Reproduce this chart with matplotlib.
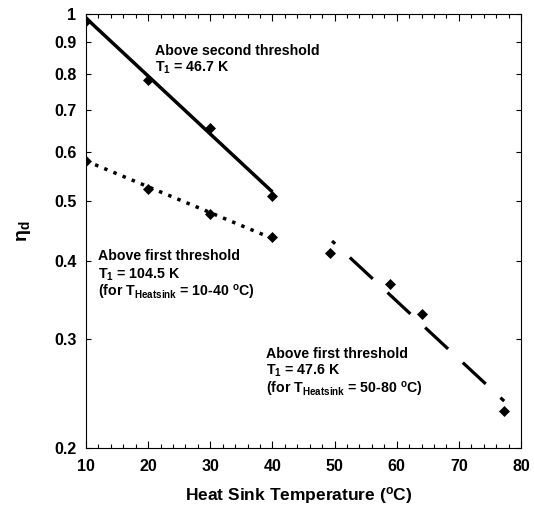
import matplotlib
matplotlib.use("Agg")
import matplotlib.pyplot as plt
from matplotlib.ticker import FixedLocator, NullLocator, MultipleLocator

# fonts: bold Arial-like everywhere, mathtext in the same face
plt.rcParams['font.family'] = ['Liberation Sans', 'DejaVu Sans']
plt.rcParams['font.weight'] = 'bold'
plt.rcParams['mathtext.fontset'] = 'custom'
plt.rcParams['mathtext.rm'] = 'Liberation Sans:bold'
plt.rcParams['mathtext.it'] = 'Liberation Sans:bold'
plt.rcParams['mathtext.bf'] = 'Liberation Sans:bold'
plt.rcParams['mathtext.default'] = 'regular'

# measured points
temp_second = [10, 20, 30, 40]
eta_second = [0.975, 0.783, 0.655, 0.510]
temp_first_low = [10, 20, 30, 40]
eta_first_low = [0.580, 0.522, 0.476, 0.438]
temp_first_high = [49.3, 58.9, 64.0, 77.2]
eta_first_high = [0.412, 0.367, 0.329, 0.2295]

# fitted exponential lines (end points)
fit_second_x = [10, 40]
fit_second_y = [0.985, 0.517]
fit_low_x = [10, 40]
fit_low_y = [0.580, 0.435]
fit_high_x = [49.6, 77.3]
fit_high_y = [0.431, 0.238]

yticks = [0.2, 0.3, 0.4, 0.5, 0.6, 0.7, 0.8, 0.9, 1.0]
ytick_labels = ['0.2', '0.3', '0.4', '0.5', '0.6', '0.7', '0.8', '0.9', '1']
xticks = [10, 20, 30, 40, 50, 60, 70, 80]

fig = plt.figure(figsize=(5.34, 5.09), dpi=100)
ax = fig.add_axes([0.1610, 0.1198, 0.8146, 0.8527])

ax.plot(fit_second_x, fit_second_y, color='black', lw=2.5, solid_capstyle='butt')
ax.plot(fit_low_x, fit_low_y, color='black', lw=2.5, linestyle=(0, (1, 1.85)))
ax.plot(fit_high_x, fit_high_y, color='black', lw=2.3, linestyle=(8.5, (9.8, 6.3)))

for xs, ys in [(temp_second, eta_second), (temp_first_low, eta_first_low),
               (temp_first_high, eta_first_high)]:
    ax.plot(xs, ys, linestyle='none', marker='D', ms=4.8, mew=0.5,
            color='black', zorder=5)

ax.set_yscale('log')
ax.set_xlim(10, 80)
ax.set_ylim(0.2, 1.0)
ax.yaxis.set_major_locator(FixedLocator(yticks))
ax.yaxis.set_minor_locator(NullLocator())
ax.set_yticklabels(ytick_labels, fontsize=11.5, fontweight='bold')
ax.xaxis.set_major_locator(FixedLocator(xticks))
ax.xaxis.set_minor_locator(MultipleLocator(2))
ax.set_xticklabels([str(t) for t in xticks], fontsize=11.5, fontweight='bold')

ax.tick_params(which='both', direction='in', top=True, right=True, width=0.8)
ax.tick_params(axis='x', which='major', length=5, pad=8)
ax.tick_params(axis='x', which='minor', length=3)
ax.tick_params(axis='y', which='major', length=3.3, pad=7)
for sp in ax.spines.values():
    sp.set_linewidth(0.8)

ax.set_xlabel(r'Heat Sink Temperature ($^{o}$C)', fontsize=12.5, fontweight='bold')
ax.xaxis.set_label_coords(0.49, -0.085)
ax.set_ylabel('η$_d$', fontsize=14, fontweight='bold')
ax.yaxis.set_label_coords(-0.122, 0.5)

# annotations
fs = 10.2
notes = [
    (0.1586, 0.9055, 'Above second threshold'),
    (0.1586, 0.8670, r'T$_1$ = 46.7 K'),
    (0.0270, 0.4332, 'Above first threshold'),
    (0.0270, 0.3910, r'T$_1$ = 104.5 K'),
    (0.0270, 0.3486, r'(for T$_{Heatsink}$ = 10-40 $^{o}$C)'),
    (0.4138, 0.2067, 'Above first threshold'),
    (0.4138, 0.1698, r'T$_1$ = 47.6 K'),
    (0.4138, 0.1260, r'(for T$_{Heatsink}$ = 50-80 $^{o}$C)'),
]
for x, y, s in notes:
    ax.text(x, y, s, transform=ax.transAxes, fontsize=fs, fontweight='bold',
            va='baseline', ha='left')

fig.savefig('out.png', dpi=100)
